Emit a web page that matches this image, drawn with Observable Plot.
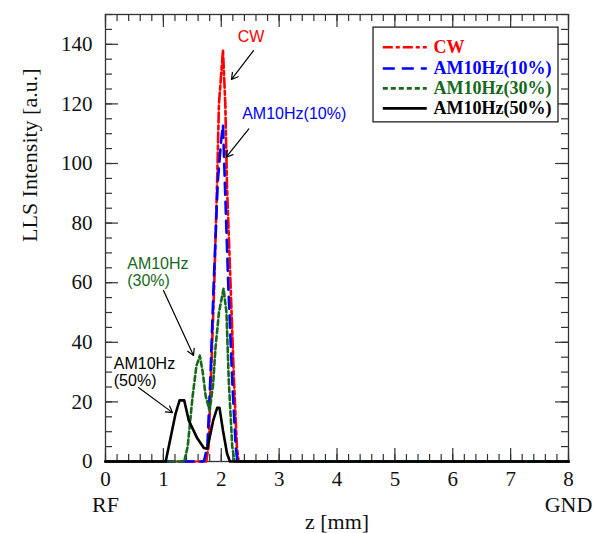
<!DOCTYPE html>
<html><head><meta charset="utf-8">
<script src="https://cdn.jsdelivr.net/npm/d3@7"></script>
<script src="https://cdn.jsdelivr.net/npm/@observablehq/plot@0.6"></script>
<style>body{margin:0;background:#fff} #chart{width:600px;height:533px}</style>
</head><body><div id="chart"></div>
<script>
// ---- data (z in mm, intensity in a.u.) ----
const cwZ   = [0, 1.74, 1.78, 1.82, 1.88, 1.93, 1.96, 2.03, 2.07, 2.10, 2.16, 2.22, 2.27, 2.30, 8];
const cwI   = [0, 0,    5,    27,   60,   95,   120,  138,  120,  92,   60,   27,   5,    0,    0];
const am10Z = [0, 1.70, 1.76, 1.81, 1.87, 1.94, 2.00, 2.03, 2.06, 2.12, 2.19, 2.25, 2.28, 8];
const am10I = [0, 0,    5,    27,   60,   94,   108,  113,  95,   60,   27,   5,    0,    0];
const am30Z = [0, 1.36, 1.42, 1.50, 1.57, 1.63, 1.68, 1.73, 1.80, 1.86, 1.90, 1.96, 2.04, 2.09, 2.13, 2.19, 2.23, 8];
const am30I = [0, 0,    5,    21,   32,   35.5, 30,   22,   17,   26,   38,   50,   58,   50,   27,   5,    0,    0];
const am50Z = [0, 1.04, 1.09, 1.21, 1.28, 1.36, 1.44, 1.58, 1.70, 1.76, 1.86, 1.93, 1.97, 2.03, 2.10, 2.15, 8];
const am50I = [0, 0,    4.7,  16,   20.5, 20.5, 13.7, 8,    4.5,  4.3,  13.7, 18,   18,   10.4, 2.7,  0,    0];

const seriesNames  = ["CW", "AM10Hz(10%)", "AM10Hz(30%)", "AM10Hz(50%)"];
const seriesColors = ["#ff0000", "#0000ff", "#17691a", "#000000"];
const seriesDash   = ["10,3,4,3", "12,7", "5,3", null];

const xMajor = [0, 1, 2, 3, 4, 5, 6, 7, 8];
const yMajor = [0, 20, 40, 60, 80, 100, 120, 140];
const xMinor = d3.range(0, 8.001, 0.2);
const yMinor = d3.range(0, 150.001, 5);

// annotation layout (data coordinates)
const annoText  = ["CW", "AM10Hz(10%)", "AM10Hz\n(30%)", "AM10Hz\n(50%)"];
const annoTx    = [2.514, 2.362, 0.375, 0.143];
const annoTy    = [142.6, 116.8, 63.6, 30.1];
const annoAnchor= ["middle", "start", "start", "start"];
const arrowX1 = [2.557, 2.476, 1.002, 0.570];
const arrowY1 = [137.9, 111.6, 57.4, 24.8];
const arrowX2 = [2.177, 2.086, 1.521, 1.158];
const arrowY2 = [128.2, 102.1, 35.6, 16.4];

// legend layout (data coordinates)
const legendBox = {x1: 4.631, x2: 7.827, y1: 145.6, y2: 113.8};
const legendRowY = [139.0, 131.9, 125.2, 118.5];
const legendLineX = [4.80, 5.56];
const legendTextX = 5.667;

const W = 600, H = 533, mL = 105, mR = 32, mT = 14, mB = 72;
const fw = W - mL - mR, fh = H - mT - mB;
const serif = "Liberation Serif, Times New Roman, serif";
const sans = "Liberation Sans, Arial, sans-serif";

const allZ = [cwZ, am10Z, am30Z, am50Z];
const allI = [cwI, am10I, am30I, am50I];
const rows = allZ.map((zs, k) => zs.map((z, i) => ({z, v: allI[k][i]})));

const marks = [];
marks.push(Plot.frame({stroke: "#333", strokeWidth: 1.3}));
const tickStyle = {stroke: "#333", strokeWidth: 1.2};
marks.push(Plot.tickX(xMinor, {x: d => d, insetTop: fh - 7, ...tickStyle}));
marks.push(Plot.tickX(xMinor, {x: d => d, insetBottom: fh - 7, ...tickStyle}));
marks.push(Plot.tickX(xMajor, {x: d => d, insetTop: fh - 13, ...tickStyle}));
marks.push(Plot.tickX(xMajor, {x: d => d, insetBottom: fh - 13, ...tickStyle}));
marks.push(Plot.tickY(yMinor, {y: d => d, insetRight: fw - 7, ...tickStyle}));
marks.push(Plot.tickY(yMinor, {y: d => d, insetLeft: fw - 7, ...tickStyle}));
marks.push(Plot.tickY(yMajor, {y: d => d, insetRight: fw - 13, ...tickStyle}));
marks.push(Plot.tickY(yMajor, {y: d => d, insetLeft: fw - 13, ...tickStyle}));
marks.push(Plot.axisX(xMajor, {tickSize: 0, tickPadding: 10, fontSize: 21, fontFamily: serif, fill: "#111"}));
marks.push(Plot.axisY(yMajor, {tickSize: 0, tickPadding: 13, fontSize: 21, fontFamily: serif, fill: "#111", label: null}));
marks.push(Plot.text(["LLS Intensity [a.u.]"], {frameAnchor: "left", dx: -76, dy: 4, rotate: -90, lineAnchor: "middle", fontSize: 22, fontFamily: serif, fill: "#111"}));
marks.push(Plot.text(["z [mm]"], {frameAnchor: "bottom", dy: 60, lineAnchor: "middle", fontSize: 22, fontFamily: serif, fill: "#111"}));
marks.push(Plot.text(["RF", "GND"], {x: [0, 8], frameAnchor: "bottom", dy: 43, lineAnchor: "middle", fontSize: 22, fontFamily: serif, fill: "#111"}));

rows.forEach((r, k) => {
  marks.push(Plot.line(r, {x: "z", y: "v", stroke: seriesColors[k], strokeWidth: 2.6,
    strokeDasharray: seriesDash[k] || undefined, curve: "linear"}));
});

annoText.forEach((t, k) => {
  marks.push(Plot.text([t], {x: annoTx[k], y: annoTy[k], textAnchor: annoAnchor[k], fill: seriesColors[k],
    fontSize: 16, fontFamily: sans, lineHeight: 1.1}));
  marks.push(Plot.arrow([k], {x1: arrowX1[k], y1: arrowY1[k], x2: arrowX2[k], y2: arrowY2[k],
    stroke: "#000", strokeWidth: 1.2, headLength: 9}));
});

marks.push(Plot.rect([legendBox], {x1: "x1", x2: "x2", y1: "y1", y2: "y2", fill: "#fff", stroke: "#222", strokeWidth: 1.3}));
seriesNames.forEach((n, k) => {
  marks.push(Plot.ruleY([legendRowY[k]], {x1: legendLineX[0], x2: legendLineX[1], stroke: seriesColors[k],
    strokeWidth: 2.6, strokeDasharray: seriesDash[k] || undefined}));
  marks.push(Plot.text([n], {x: legendTextX, y: legendRowY[k], textAnchor: "start", fill: seriesColors[k],
    fontSize: 18, fontWeight: "bold", fontFamily: serif}));
});

const chart = Plot.plot({
  width: W, height: H,
  marginLeft: mL, marginRight: mR, marginTop: mT, marginBottom: mB,
  x: {domain: [0, 8], axis: null},
  y: {domain: [0, 150], axis: null},
  style: {background: "#fff", fontFamily: serif},
  marks
});
document.getElementById("chart").appendChild(chart);
</script>
</body></html>
